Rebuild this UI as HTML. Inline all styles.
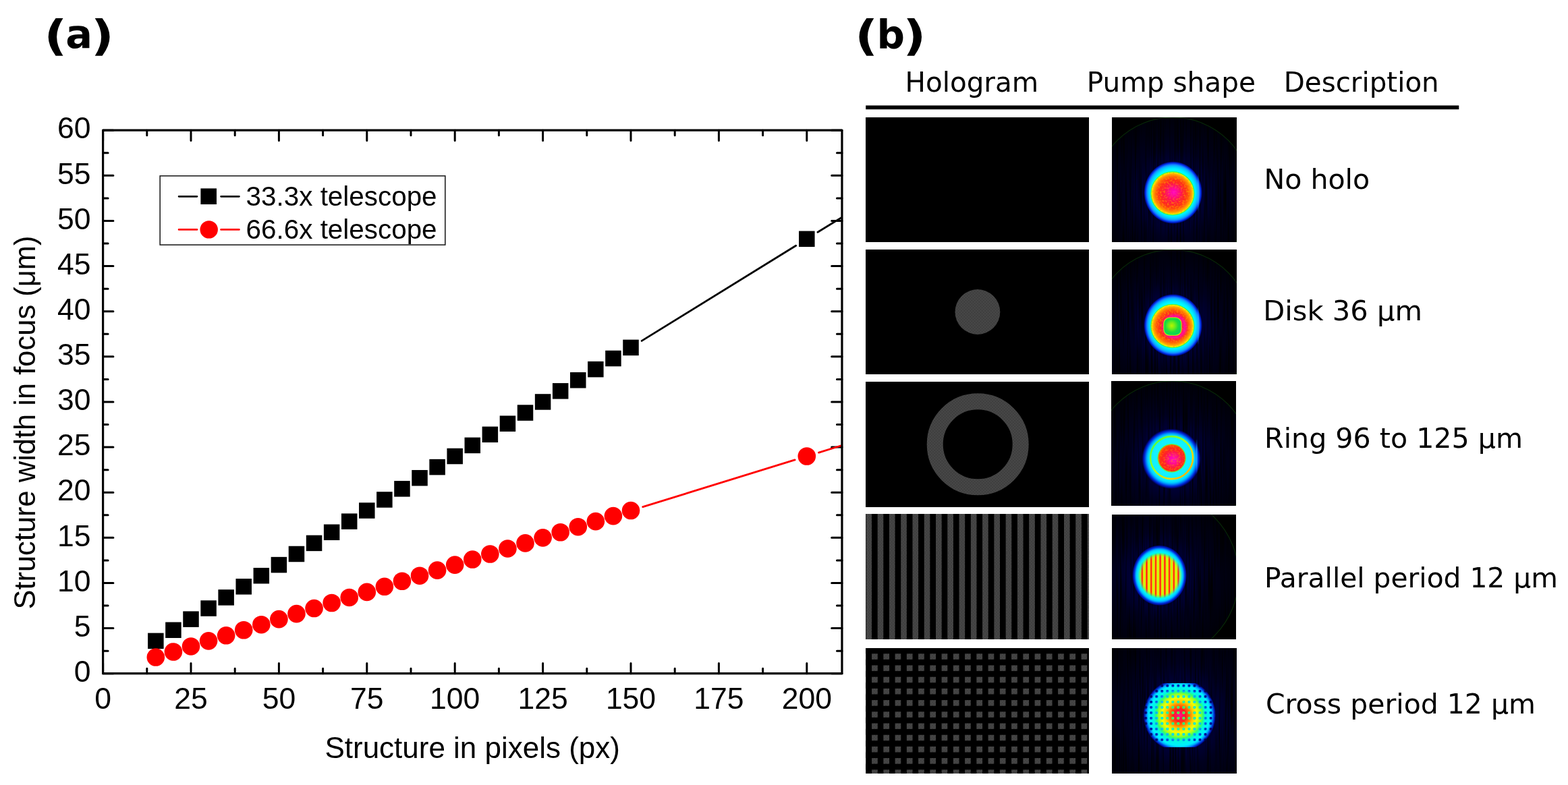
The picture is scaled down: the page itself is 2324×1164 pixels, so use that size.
<!DOCTYPE html>
<html><head><meta charset="utf-8"><title>Figure</title>
<style>
html,body{margin:0;padding:0;background:#fff;}
body{width:2324px;height:1164px;overflow:hidden;}
svg{display:block;}
.ar{font-family:"Liberation Sans",Arial,sans-serif;fill:#000;}
.dv{font-family:"DejaVu Sans",Verdana,sans-serif;fill:#000;}
</style></head><body>
<svg width="2324" height="1164" viewBox="0 0 2324 1164">
<rect width="2324" height="1164" fill="#fff"/>

<defs>
<clipPath id="plotclip"><rect x="152.6" y="193.2" width="1095.4" height="805.5"/></clipPath>
</defs>
<g class="dv" font-weight="bold" font-size="59"><text transform="translate(65.2 73.8) scale(1.27 1.063)">(</text><text x="97.2" y="71.2">a</text><text transform="translate(134.8 73.8) scale(1.27 1.063)">)</text></g>
<path d="M152.60 998.70V983.40M152.60 193.20V208.50M217.80 998.70V991.20M217.80 193.20V200.70M283.00 998.70V983.40M283.00 193.20V208.50M348.20 998.70V991.20M348.20 193.20V200.70M413.40 998.70V983.40M413.40 193.20V208.50M478.60 998.70V991.20M478.60 193.20V200.70M543.80 998.70V983.40M543.80 193.20V208.50M609.00 998.70V991.20M609.00 193.20V200.70M674.20 998.70V983.40M674.20 193.20V208.50M739.40 998.70V991.20M739.40 193.20V200.70M804.60 998.70V983.40M804.60 193.20V208.50M869.80 998.70V991.20M869.80 193.20V200.70M935.00 998.70V983.40M935.00 193.20V208.50M1000.20 998.70V991.20M1000.20 193.20V200.70M1065.40 998.70V983.40M1065.40 193.20V208.50M1130.60 998.70V991.20M1130.60 193.20V200.70M1195.80 998.70V983.40M1195.80 193.20V208.50M152.60 998.70H167.90M1247.96 998.70H1232.66M152.60 965.14H160.10M1247.96 965.14H1240.46M152.60 931.58H167.90M1247.96 931.58H1232.66M152.60 898.01H160.10M1247.96 898.01H1240.46M152.60 864.45H167.90M1247.96 864.45H1232.66M152.60 830.89H160.10M1247.96 830.89H1240.46M152.60 797.33H167.90M1247.96 797.33H1232.66M152.60 763.76H160.10M1247.96 763.76H1240.46M152.60 730.20H167.90M1247.96 730.20H1232.66M152.60 696.64H160.10M1247.96 696.64H1240.46M152.60 663.08H167.90M1247.96 663.08H1232.66M152.60 629.51H160.10M1247.96 629.51H1240.46M152.60 595.95H167.90M1247.96 595.95H1232.66M152.60 562.39H160.10M1247.96 562.39H1240.46M152.60 528.83H167.90M1247.96 528.83H1232.66M152.60 495.26H160.10M1247.96 495.26H1240.46M152.60 461.70H167.90M1247.96 461.70H1232.66M152.60 428.14H160.10M1247.96 428.14H1240.46M152.60 394.58H167.90M1247.96 394.58H1232.66M152.60 361.01H160.10M1247.96 361.01H1240.46M152.60 327.45H167.90M1247.96 327.45H1232.66M152.60 293.89H160.10M1247.96 293.89H1240.46M152.60 260.33H167.90M1247.96 260.33H1232.66M152.60 226.76H160.10M1247.96 226.76H1240.46M152.60 193.20H167.90M1247.96 193.20H1232.66" stroke="#000" stroke-width="3" stroke-linecap="round" fill="none"/>
<text class="ar" x="152.6" y="1051" font-size="44.5" text-anchor="middle">0</text>
<text class="ar" x="283.0" y="1051" font-size="44.5" text-anchor="middle">25</text>
<text class="ar" x="413.4" y="1051" font-size="44.5" text-anchor="middle">50</text>
<text class="ar" x="543.8" y="1051" font-size="44.5" text-anchor="middle">75</text>
<text class="ar" x="674.2" y="1051" font-size="44.5" text-anchor="middle">100</text>
<text class="ar" x="804.6" y="1051" font-size="44.5" text-anchor="middle">125</text>
<text class="ar" x="935.0" y="1051" font-size="44.5" text-anchor="middle">150</text>
<text class="ar" x="1065.4" y="1051" font-size="44.5" text-anchor="middle">175</text>
<text class="ar" x="1195.8" y="1051" font-size="44.5" text-anchor="middle">200</text>
<text class="ar" x="134.6" y="1010.9" font-size="44.5" text-anchor="end">0</text>
<text class="ar" x="134.6" y="943.8" font-size="44.5" text-anchor="end">5</text>
<text class="ar" x="134.6" y="876.7" font-size="44.5" text-anchor="end">10</text>
<text class="ar" x="134.6" y="809.5" font-size="44.5" text-anchor="end">15</text>
<text class="ar" x="134.6" y="742.4" font-size="44.5" text-anchor="end">20</text>
<text class="ar" x="134.6" y="675.3" font-size="44.5" text-anchor="end">25</text>
<text class="ar" x="134.6" y="608.2" font-size="44.5" text-anchor="end">30</text>
<text class="ar" x="134.6" y="541.0" font-size="44.5" text-anchor="end">35</text>
<text class="ar" x="134.6" y="473.9" font-size="44.5" text-anchor="end">40</text>
<text class="ar" x="134.6" y="406.8" font-size="44.5" text-anchor="end">45</text>
<text class="ar" x="134.6" y="339.7" font-size="44.5" text-anchor="end">50</text>
<text class="ar" x="134.6" y="272.5" font-size="44.5" text-anchor="end">55</text>
<text class="ar" x="134.6" y="205.4" font-size="44.5" text-anchor="end">60</text>
<text class="ar" x="700.2" y="1124.4" font-size="44" text-anchor="middle" textLength="437.5" lengthAdjust="spacingAndGlyphs">Structure in pixels (px)</text>
<text class="ar" transform="translate(51.8 626.6) rotate(-90)" x="0" y="0" font-size="44" text-anchor="middle" textLength="554" lengthAdjust="spacingAndGlyphs">Structure width in focus (μm)</text>
<g clip-path="url(#plotclip)">
<path d="M951.16 505.41L1179.64 364.29M1211.96 344.31L1440.44 203.19" stroke="#000" stroke-width="2.8" stroke-linecap="round" fill="none"/>
<path d="M952.68 751.59L1178.12 681.96M1213.48 671.04L1438.92 601.41" stroke="#f00" stroke-width="2.8" stroke-linecap="round" fill="none"/>
</g>
<rect x="219.09" y="938.62" width="23.5" height="23.5" fill="#000"/>
<rect x="245.17" y="922.51" width="23.5" height="23.5" fill="#000"/>
<rect x="271.25" y="906.40" width="23.5" height="23.5" fill="#000"/>
<rect x="297.33" y="890.29" width="23.5" height="23.5" fill="#000"/>
<rect x="323.41" y="874.18" width="23.5" height="23.5" fill="#000"/>
<rect x="349.49" y="858.07" width="23.5" height="23.5" fill="#000"/>
<rect x="375.57" y="841.96" width="23.5" height="23.5" fill="#000"/>
<rect x="401.65" y="825.85" width="23.5" height="23.5" fill="#000"/>
<rect x="427.73" y="809.74" width="23.5" height="23.5" fill="#000"/>
<rect x="453.81" y="793.63" width="23.5" height="23.5" fill="#000"/>
<rect x="479.89" y="777.52" width="23.5" height="23.5" fill="#000"/>
<rect x="505.97" y="761.41" width="23.5" height="23.5" fill="#000"/>
<rect x="532.05" y="745.30" width="23.5" height="23.5" fill="#000"/>
<rect x="558.13" y="729.19" width="23.5" height="23.5" fill="#000"/>
<rect x="584.21" y="713.08" width="23.5" height="23.5" fill="#000"/>
<rect x="610.29" y="696.97" width="23.5" height="23.5" fill="#000"/>
<rect x="636.37" y="680.86" width="23.5" height="23.5" fill="#000"/>
<rect x="662.45" y="664.75" width="23.5" height="23.5" fill="#000"/>
<rect x="688.53" y="648.64" width="23.5" height="23.5" fill="#000"/>
<rect x="714.61" y="632.53" width="23.5" height="23.5" fill="#000"/>
<rect x="740.69" y="616.42" width="23.5" height="23.5" fill="#000"/>
<rect x="766.77" y="600.31" width="23.5" height="23.5" fill="#000"/>
<rect x="792.85" y="584.20" width="23.5" height="23.5" fill="#000"/>
<rect x="818.93" y="568.09" width="23.5" height="23.5" fill="#000"/>
<rect x="845.01" y="551.98" width="23.5" height="23.5" fill="#000"/>
<rect x="871.09" y="535.87" width="23.5" height="23.5" fill="#000"/>
<rect x="897.17" y="519.76" width="23.5" height="23.5" fill="#000"/>
<rect x="923.25" y="503.65" width="23.5" height="23.5" fill="#000"/>
<rect x="1184.05" y="342.55" width="23.5" height="23.5" fill="#000"/>
<circle cx="230.84" cy="974.54" r="13.3" fill="#f00"/>
<circle cx="256.92" cy="966.48" r="13.3" fill="#f00"/>
<circle cx="283.00" cy="958.43" r="13.3" fill="#f00"/>
<circle cx="309.08" cy="950.37" r="13.3" fill="#f00"/>
<circle cx="335.16" cy="942.32" r="13.3" fill="#f00"/>
<circle cx="361.24" cy="934.26" r="13.3" fill="#f00"/>
<circle cx="387.32" cy="926.21" r="13.3" fill="#f00"/>
<circle cx="413.40" cy="918.15" r="13.3" fill="#f00"/>
<circle cx="439.48" cy="910.10" r="13.3" fill="#f00"/>
<circle cx="465.56" cy="902.04" r="13.3" fill="#f00"/>
<circle cx="491.64" cy="893.99" r="13.3" fill="#f00"/>
<circle cx="517.72" cy="885.93" r="13.3" fill="#f00"/>
<circle cx="543.80" cy="877.88" r="13.3" fill="#f00"/>
<circle cx="569.88" cy="869.82" r="13.3" fill="#f00"/>
<circle cx="595.96" cy="861.77" r="13.3" fill="#f00"/>
<circle cx="622.04" cy="853.71" r="13.3" fill="#f00"/>
<circle cx="648.12" cy="845.65" r="13.3" fill="#f00"/>
<circle cx="674.20" cy="837.60" r="13.3" fill="#f00"/>
<circle cx="700.28" cy="829.55" r="13.3" fill="#f00"/>
<circle cx="726.36" cy="821.49" r="13.3" fill="#f00"/>
<circle cx="752.44" cy="813.44" r="13.3" fill="#f00"/>
<circle cx="778.52" cy="805.38" r="13.3" fill="#f00"/>
<circle cx="804.60" cy="797.33" r="13.3" fill="#f00"/>
<circle cx="830.68" cy="789.27" r="13.3" fill="#f00"/>
<circle cx="856.76" cy="781.22" r="13.3" fill="#f00"/>
<circle cx="882.84" cy="773.16" r="13.3" fill="#f00"/>
<circle cx="908.92" cy="765.11" r="13.3" fill="#f00"/>
<circle cx="935.00" cy="757.05" r="13.3" fill="#f00"/>
<circle cx="1195.80" cy="676.50" r="13.3" fill="#f00"/>
<rect x="152.60" y="193.20" width="1095.36" height="805.50" fill="none" stroke="#000" stroke-width="3.2" stroke-linejoin="round"/>
<rect x="237.2" y="260.8" width="422.6" height="102.3" fill="#fff" stroke="#222" stroke-width="1.6"/>
<path d="M265.1 291.3H292M327.6 291.3H354.4" stroke="#000" stroke-width="2.8" stroke-linecap="round"/>
<rect x="297.4" y="279.4" width="23.6" height="23.6" fill="#000"/>
<path d="M265.1 340.4H292M327.6 340.4H354.4" stroke="#f00" stroke-width="2.8" stroke-linecap="round"/>
<circle cx="309.7" cy="340.4" r="13.2" fill="#f00"/>
<text class="ar" x="364.6" y="305.2" font-size="40" textLength="283" lengthAdjust="spacingAndGlyphs">33.3x telescope</text>
<text class="ar" x="364.6" y="354.2" font-size="40" textLength="283" lengthAdjust="spacingAndGlyphs">66.6x telescope</text>
<defs>
<pattern id="chk" patternUnits="userSpaceOnUse" x="1283" y="0" width="4.4" height="4.4"><rect width="4.4" height="4.4" fill="#3d3d3d"/><rect width="2.2" height="2.2" fill="#494949"/><rect x="2.2" y="2.2" width="2.2" height="2.2" fill="#494949"/></pattern>
<pattern id="stripes" patternUnits="userSpaceOnUse" x="1283.4" y="0" width="17.27" height="20"><rect x="0" y="0" width="8.64" height="20" fill="url(#chk)"/></pattern>
<pattern id="grid" patternUnits="userSpaceOnUse" x="1292.1" y="969.3" width="17.25" height="17.2"><rect x="0" y="0" width="8.7" height="8.5" fill="url(#chk)"/></pattern>
<radialGradient id="bgglow" cx="0.5" cy="0.5" r="0.5">
<stop offset="0" stop-color="#000048"/>
<stop offset="0.45" stop-color="#000034"/>
<stop offset="0.6" stop-color="#000022"/>
<stop offset="0.8" stop-color="#000012"/>
<stop offset="1" stop-color="#000004"/>
</radialGradient>
<radialGradient id="halo" cx="0.5" cy="0.5" r="0.5">
<stop offset="0" stop-color="#00ffff"/>
<stop offset="0.70" stop-color="#00ffff"/>
<stop offset="0.76" stop-color="#00f0ff"/>
<stop offset="0.82" stop-color="#00d0ff"/>
<stop offset="0.87" stop-color="#10a0ff"/>
<stop offset="0.91" stop-color="#1060ff"/>
<stop offset="0.94" stop-color="#0030e0"/>
<stop offset="0.97" stop-color="#0010a0"/>
<stop offset="1" stop-color="#000050" stop-opacity="0"/>
</radialGradient>
<radialGradient id="halo3" cx="0.5" cy="0.5" r="0.5">
<stop offset="0" stop-color="#20f8ff"/>
<stop offset="0.70" stop-color="#10f0ff"/>
<stop offset="0.78" stop-color="#00d8ff"/>
<stop offset="0.83" stop-color="#00a0ff"/>
<stop offset="0.87" stop-color="#0060f0"/>
<stop offset="0.91" stop-color="#0028d0"/>
<stop offset="0.95" stop-color="#000c90"/>
<stop offset="1" stop-color="#000050" stop-opacity="0"/>
</radialGradient>
<linearGradient id="ring3" x1="0" y1="0" x2="1" y2="1">
<stop offset="0" stop-color="#40ff40"/>
<stop offset="0.45" stop-color="#a0ff20"/>
<stop offset="0.75" stop-color="#ffd000"/>
<stop offset="1" stop-color="#ff9000"/>
</linearGradient>
<radialGradient id="disk" cx="0.5" cy="0.5" r="0.5">
<stop offset="0" stop-color="#ff1070"/>
<stop offset="0.4" stop-color="#ff1840"/>
<stop offset="0.62" stop-color="#ff3018"/>
<stop offset="0.76" stop-color="#ff6008"/>
<stop offset="0.86" stop-color="#ff9800"/>
<stop offset="0.93" stop-color="#ffd800"/>
<stop offset="0.975" stop-color="#f0ff00"/>
<stop offset="1" stop-color="#a0ff20"/>
</radialGradient>
<linearGradient id="rim" x1="0" y1="0" x2="1" y2="1">
<stop offset="0" stop-color="#50ff30"/>
<stop offset="0.5" stop-color="#20f060"/>
<stop offset="1" stop-color="#30ff50"/>
</linearGradient>
<radialGradient id="mag" cx="0.5" cy="0.5" r="0.5">
<stop offset="0" stop-color="#ff00e0" stop-opacity="0.8"/>
<stop offset="0.5" stop-color="#ff00c0" stop-opacity="0.45"/>
<stop offset="1" stop-color="#ff0080" stop-opacity="0"/>
</radialGradient>
<radialGradient id="mag2" cx="0.5" cy="0.5" r="0.5">
<stop offset="0" stop-color="#ff00d0" stop-opacity="0"/>
<stop offset="0.55" stop-color="#ff00d0" stop-opacity="0.2"/>
<stop offset="0.75" stop-color="#ff00c8" stop-opacity="0.75"/>
<stop offset="0.9" stop-color="#ff0090" stop-opacity="0.35"/>
<stop offset="1" stop-color="#ff0060" stop-opacity="0"/>
</radialGradient>
<radialGradient id="spot" cx="0.45" cy="0.45" r="0.55">
<stop offset="0" stop-color="#b8f400"/>
<stop offset="0.35" stop-color="#70ec18"/>
<stop offset="0.7" stop-color="#18dc40"/>
<stop offset="1" stop-color="#08d458"/>
</radialGradient>
<radialGradient id="disk3" cx="0.55" cy="0.55" r="0.55">
<stop offset="0" stop-color="#ff00d8"/>
<stop offset="0.3" stop-color="#ff0c90"/>
<stop offset="0.6" stop-color="#ff1c30"/>
<stop offset="0.85" stop-color="#ff3010"/>
<stop offset="1" stop-color="#ff6000"/>
</radialGradient>
<linearGradient id="vstreak" x1="0" y1="0" x2="0" y2="1">
<stop offset="0" stop-color="#1890ff" stop-opacity="0"/>
<stop offset="0.3" stop-color="#20b0ff" stop-opacity="0.75"/>
<stop offset="0.7" stop-color="#20b0ff" stop-opacity="0.75"/>
<stop offset="1" stop-color="#1890ff" stop-opacity="0"/>
</linearGradient>
<filter id="streak" x="0" y="0" width="1" height="1" color-interpolation-filters="sRGB">
<feTurbulence type="fractalNoise" baseFrequency="0.45 0.012" numOctaves="1" seed="3" result="n"/>
<feColorMatrix in="n" type="matrix" values="0 0 0 0 0  0 0 0 0 0  0 0 0 0 0  3 0 0 0 -1.35" result="na"/>
<feFlood flood-color="#000000"/>
<feComposite in2="na" operator="in" result="c"/>
<feComposite in="c" in2="SourceAlpha" operator="in"/>
</filter>
<filter id="speck" x="0" y="0" width="1" height="1" color-interpolation-filters="sRGB">
<feTurbulence type="fractalNoise" baseFrequency="0.36" numOctaves="2" seed="7" result="n"/>
<feColorMatrix in="n" type="matrix" values="0 0 0 0 0  0 0 0 0 0  0 0 0 0 0  5 0 0 0 -2.4" result="na"/>
<feFlood flood-color="#ff9a00"/>
<feComposite in2="na" operator="in" result="c"/>
<feComposite in="c" in2="SourceAlpha" operator="in"/>
</filter>
<radialGradient id="halo4" cx="0.5" cy="0.5" r="0.5">
<stop offset="0" stop-color="#f0ff00"/>
<stop offset="0.55" stop-color="#c0ff10"/>
<stop offset="0.66" stop-color="#40ff50"/>
<stop offset="0.72" stop-color="#00ffd0"/>
<stop offset="0.78" stop-color="#00f0ff"/>
<stop offset="0.84" stop-color="#00d0ff"/>
<stop offset="0.87" stop-color="#00a0ff"/>
<stop offset="0.90" stop-color="#0060f0"/>
<stop offset="0.93" stop-color="#0028d0"/>
<stop offset="0.97" stop-color="#000c90"/>
<stop offset="1" stop-color="#000050" stop-opacity="0"/>
</radialGradient>
<linearGradient id="fringe" gradientUnits="userSpaceOnUse" x1="1689.44" y1="0" x2="1696.16" y2="0" spreadMethod="repeat">
<stop offset="0" stop-color="#a0ff20"/>
<stop offset="0.14" stop-color="#f0f800"/>
<stop offset="0.26" stop-color="#ffc000"/>
<stop offset="0.36" stop-color="#ff6000"/>
<stop offset="0.5" stop-color="#ff1030"/>
<stop offset="0.64" stop-color="#ff6000"/>
<stop offset="0.74" stop-color="#ffc000"/>
<stop offset="0.86" stop-color="#f0f800"/>
<stop offset="1" stop-color="#a0ff20"/>
</linearGradient>
<radialGradient id="m4g" cx="0.5" cy="0.5" r="0.5">
<stop offset="0" stop-color="#fff"/>
<stop offset="0.82" stop-color="#fff"/>
<stop offset="1" stop-color="#000"/>
</radialGradient>
<mask id="m4" maskUnits="userSpaceOnUse" x="1640" y="760" width="200" height="200"><ellipse cx="1719.4" cy="853.5" rx="33" ry="34" fill="url(#m4g)"/></mask>
<radialGradient id="halo5" cx="0.5" cy="0.5" r="0.5">
<stop offset="0" stop-color="#ff10a0"/>
<stop offset="0.08" stop-color="#ff1060"/>
<stop offset="0.17" stop-color="#ff2020"/>
<stop offset="0.27" stop-color="#ff7000"/>
<stop offset="0.37" stop-color="#ffc800"/>
<stop offset="0.48" stop-color="#f0ff00"/>
<stop offset="0.57" stop-color="#a0ff20"/>
<stop offset="0.64" stop-color="#30ff70"/>
<stop offset="0.71" stop-color="#00f8e0"/>
<stop offset="0.84" stop-color="#00f0ff"/>
<stop offset="0.89" stop-color="#00b0ff"/>
<stop offset="0.93" stop-color="#0050e8"/>
<stop offset="0.97" stop-color="#0010a0"/>
<stop offset="1" stop-color="#000060" stop-opacity="0"/>
</radialGradient>
<radialGradient id="halo5d" cx="0.5" cy="0.5" r="0.5">
<stop offset="0" stop-color="#60ff40"/>
<stop offset="0.25" stop-color="#30ff70"/>
<stop offset="0.42" stop-color="#00f0c0"/>
<stop offset="0.55" stop-color="#00e0f0"/>
<stop offset="0.66" stop-color="#00b0ff"/>
<stop offset="0.76" stop-color="#0050e0"/>
<stop offset="0.86" stop-color="#0014a8"/>
<stop offset="1" stop-color="#000040"/>
</radialGradient>
<pattern id="dots5" patternUnits="userSpaceOnUse" x="1704.3" y="1015" width="8.03" height="8.0"><rect x="0" y="0" width="3.8" height="3.8" rx="1.2" fill="#fff"/></pattern>
<mask id="dm5" maskUnits="userSpaceOnUse" x="1640" y="955" width="200" height="200"><rect x="1640" y="1010" width="200" height="91" fill="url(#dots5)"/></mask>
<clipPath id="oct5"><rect x="1690" y="1013" width="120" height="95"/></clipPath>

<clipPath id="pc0"><rect x="1648.0" y="174.0" width="185.0" height="185.0"/></clipPath>
<clipPath id="pc1"><rect x="1648.0" y="370.0" width="185.0" height="185.0"/></clipPath>
<clipPath id="pc2"><rect x="1647.0" y="565.0" width="185.0" height="185.0"/></clipPath>
<clipPath id="pc3"><rect x="1648.0" y="763.0" width="184.0" height="185.0"/></clipPath>
<clipPath id="pc4"><rect x="1648.0" y="961.0" width="185.0" height="186.0"/></clipPath>
</defs>
<g class="dv" font-weight="bold" font-size="59"><text transform="translate(1266.9 73.8) scale(1.27 1.063)">(</text><text x="1299.5" y="72.0" font-size="58">b</text><text transform="translate(1338.3 73.8) scale(1.27 1.063)">)</text></g>
<text class="dv" x="1341.5" y="136.3" font-size="40" textLength="197.7" lengthAdjust="spacingAndGlyphs">Hologram</text>
<text class="dv" x="1610.7" y="136.3" font-size="40" textLength="250.3" lengthAdjust="spacingAndGlyphs">Pump shape</text>
<text class="dv" x="1902.7" y="136.3" font-size="40" textLength="230" lengthAdjust="spacingAndGlyphs">Description</text>
<rect x="1283.2" y="156.4" width="879.1" height="5.8" fill="#000"/>
<rect x="1283.0" y="174.0" width="331.0" height="185.0" fill="#000"/>
<rect x="1283.0" y="370.0" width="331.0" height="185.0" fill="#000"/>
<circle cx="1448.9" cy="462.5" r="33.4" fill="url(#chk)"/>
<rect x="1283.0" y="566.0" width="331.0" height="186.0" fill="#000"/>
<circle cx="1449.2" cy="658.8" r="63.5" fill="none" stroke="url(#chk)" stroke-width="24"/>
<rect x="1283.0" y="762.0" width="331.0" height="186.0" fill="#000"/>
<rect x="1283.0" y="762.0" width="331.0" height="186.0" fill="url(#stripes)"/>
<rect x="1283.0" y="961.0" width="331.0" height="186.0" fill="#000"/>
<rect x="1283.0" y="961.0" width="331.0" height="186.0" fill="url(#grid)"/>
<g clip-path="url(#pc0)">
<rect x="1648.0" y="174.0" width="185.0" height="185.0" fill="#000"/>
<radialGradient id="bgg1" gradientUnits="userSpaceOnUse" cx="1737.9" cy="286.8" r="120"><stop offset="0" stop-color="#000044"/><stop offset="0.4" stop-color="#000032"/><stop offset="0.55" stop-color="#00001f"/><stop offset="0.75" stop-color="#000013"/><stop offset="1" stop-color="#000008"/></radialGradient>
<circle cx="1738.3" cy="290.0" r="116.0" fill="url(#bgg1)"/>
<circle cx="1738.3" cy="290.0" r="116.0" fill="#000" filter="url(#streak)" opacity="0.9"/>
<ellipse cx="1738.7" cy="285.6" rx="43.5" ry="46.5" fill="url(#halo)"/>
<circle cx="1737.9" cy="286.8" r="32.3" fill="url(#disk)"/>
<circle cx="1737.9" cy="286.8" r="32.3" fill="#ff9000" filter="url(#speck)" opacity="0.55"/>
<circle cx="1739.9" cy="284.8" r="15" fill="url(#mag)"/>
<circle cx="1737.9" cy="286.8" r="32.1" fill="none" stroke="url(#rim)" stroke-width="1.4" opacity="0.85"/>
<rect x="1774.6" y="258" width="2.2" height="56" fill="url(#vstreak)"/>
<circle cx="1738.3" cy="290.0" r="116.0" fill="none" stroke="#082a08" stroke-width="1.1"/>
</g>
<g clip-path="url(#pc1)">
<rect x="1648.0" y="370.0" width="185.0" height="185.0" fill="#000"/>
<radialGradient id="bgg2" gradientUnits="userSpaceOnUse" cx="1737.9" cy="483.5" r="120"><stop offset="0" stop-color="#000044"/><stop offset="0.4" stop-color="#000032"/><stop offset="0.55" stop-color="#00001f"/><stop offset="0.75" stop-color="#000013"/><stop offset="1" stop-color="#000008"/></radialGradient>
<circle cx="1738.3" cy="486.2" r="116.0" fill="url(#bgg2)"/>
<circle cx="1738.3" cy="486.2" r="116.0" fill="#000" filter="url(#streak)" opacity="0.9"/>
<ellipse cx="1738.7" cy="482.3" rx="43.5" ry="46.5" fill="url(#halo)"/>
<circle cx="1737.9" cy="483.5" r="32.3" fill="url(#disk)"/>
<circle cx="1737.9" cy="483.5" r="32.3" fill="#ff9000" filter="url(#speck)" opacity="0.55"/>
<circle cx="1740.9" cy="484.5" r="21" fill="url(#mag2)"/>
<circle cx="1737.9" cy="483.5" r="32.1" fill="none" stroke="url(#rim)" stroke-width="1.4" opacity="0.85"/>
<rect x="1724.3" y="470.6" width="27.2" height="27.2" rx="9" fill="#c8f000"/>
<rect x="1725.3" y="471.6" width="25.2" height="25.2" rx="8.5" fill="url(#spot)"/>
<rect x="1774.6" y="455" width="2.2" height="56" fill="url(#vstreak)"/>
<circle cx="1738.3" cy="486.2" r="116.0" fill="none" stroke="#082a08" stroke-width="1.1"/>
</g>
<g clip-path="url(#pc2)">
<rect x="1647.0" y="565.0" width="185.0" height="185.0" fill="#000"/>
<radialGradient id="bgg3" gradientUnits="userSpaceOnUse" cx="1736.6" cy="679.5" r="120"><stop offset="0" stop-color="#000044"/><stop offset="0.4" stop-color="#000032"/><stop offset="0.55" stop-color="#00001f"/><stop offset="0.75" stop-color="#000013"/><stop offset="1" stop-color="#000008"/></radialGradient>
<circle cx="1737.6" cy="681.0" r="116.0" fill="url(#bgg3)"/>
<circle cx="1737.6" cy="681.0" r="116.0" fill="#000" filter="url(#streak)" opacity="0.9"/>
<ellipse cx="1736.1" cy="680.3" rx="44" ry="45" fill="url(#halo3)"/>
<circle cx="1736.6" cy="678.6" r="31.5" fill="none" stroke="url(#ring3)" stroke-width="2.6"/>
<circle cx="1736.7" cy="679.2" r="21.3" fill="#60f040"/>
<circle cx="1736.7" cy="679.2" r="20" fill="url(#disk3)"/>
<circle cx="1736.7" cy="679.2" r="20" fill="#ff7000" filter="url(#speck)" opacity="0.4"/>
<rect x="1772.6" y="651" width="2" height="52" fill="url(#vstreak)"/>
<circle cx="1737.6" cy="681.0" r="116.0" fill="none" stroke="#082a08" stroke-width="1.1"/>
</g>
<g clip-path="url(#pc3)">
<rect x="1648.0" y="763.0" width="184.0" height="185.0" fill="#000"/>
<radialGradient id="bgg4" gradientUnits="userSpaceOnUse" cx="1718.6" cy="853.2" r="120"><stop offset="0" stop-color="#000044"/><stop offset="0.4" stop-color="#000032"/><stop offset="0.55" stop-color="#00001f"/><stop offset="0.75" stop-color="#000013"/><stop offset="1" stop-color="#000008"/></radialGradient>
<circle cx="1711.0" cy="855.0" r="125.0" fill="url(#bgg4)"/>
<circle cx="1711.0" cy="855.0" r="125.0" fill="#000" filter="url(#streak)" opacity="0.9"/>
<ellipse cx="1718.6" cy="853.2" rx="40.5" ry="45" fill="url(#halo4)"/>
<g mask="url(#m4)"><rect x="1680" y="815" width="80" height="80" fill="url(#fringe)"/></g>
<circle cx="1711.0" cy="855.0" r="125.0" fill="none" stroke="#082a08" stroke-width="1.1"/>
</g>
<g clip-path="url(#pc4)">
<rect x="1648.0" y="961.0" width="185.0" height="186.0" fill="#000"/>
<radialGradient id="bgg5" gradientUnits="userSpaceOnUse" cx="1748.3" cy="1060.5" r="140"><stop offset="0" stop-color="#000044"/><stop offset="0.4" stop-color="#000032"/><stop offset="0.55" stop-color="#00001f"/><stop offset="0.75" stop-color="#000013"/><stop offset="1" stop-color="#000008"/></radialGradient>
<circle cx="1748.3" cy="1060.5" r="140" fill="url(#bgg5)"/>
<circle cx="1748.3" cy="1060.5" r="140" fill="#000" filter="url(#streak)" opacity="0.9"/>
<g clip-path="url(#oct5)">
<circle cx="1748.3" cy="1060.5" r="54" fill="url(#halo5)"/>
<circle cx="1748.3" cy="1060.5" r="54" fill="url(#halo5d)" mask="url(#dm5)"/>
</g>
</g>
<text class="dv" x="1873.4" y="279.9" font-size="40" textLength="156.8" lengthAdjust="spacingAndGlyphs">No holo</text>
<text class="dv" x="1872.2" y="474.8" font-size="40" textLength="235.8" lengthAdjust="spacingAndGlyphs">Disk 36 μm</text>
<text class="dv" x="1874.1" y="664.1" font-size="40" textLength="382.9" lengthAdjust="spacingAndGlyphs">Ring 96 to 125 μm</text>
<text class="dv" x="1874.1" y="870.6" font-size="40" textLength="434.8" lengthAdjust="spacingAndGlyphs">Parallel period 12 μm</text>
<text class="dv" x="1875.9" y="1058.3" font-size="40" textLength="400" lengthAdjust="spacingAndGlyphs">Cross period 12 μm</text>
</svg>
</body></html>
